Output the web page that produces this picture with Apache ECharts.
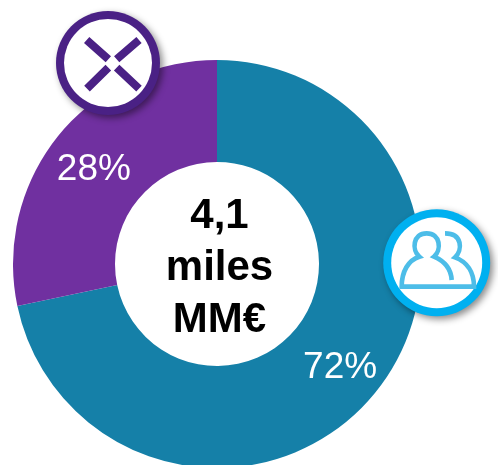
<!DOCTYPE html>
<html><head><meta charset="utf-8">
<style>html,body{margin:0;padding:0;background:#fff}#c{width:498px;height:465px}</style>
<script src="https://cdn.jsdelivr.net/npm/echarts@6/dist/echarts.min.js"></script>
</head><body><div id="c"></div>
<script>
const categories = ['Azul', 'Morado'];
const values = [71.7, 28.3];
const colors = ['#1580a8', '#7030a0'];
const centerLines = ['4,1', 'miles', 'MM€'];
const font = '"Liberation Sans", Arial, sans-serif';

echarts.graphic.registerShape('crossIcon', echarts.graphic.extendPath(
  'M140 120 L205 178 M297 120 L230 178 M141 266 L205 203 M297 266 L230 203', {}));
echarts.graphic.registerShape('peopleIcon', echarts.graphic.extendPath(
  'M245 240 C243 205 220 182 192 170 C215 150 212 100 170 100 C128 100 125 150 148 170 C115 180 95 215 95 260 L312 260 C312 215 290 185 255 172 C278 150 278 100 225 100', {}));

const shadow = {shadowBlur: 7, shadowOffsetX: 3, shadowOffsetY: 3, shadowColor: 'rgba(0,0,0,0.45)'};
const chart = echarts.init(document.getElementById('c'), null, {renderer: 'canvas'});
chart.setOption({
  animation: false,
  backgroundColor: '#fff',
  series: [{
    type: 'pie',
    center: [217, 264],
    radius: [102, 204],
    startAngle: 90,
    clockwise: true,
    silent: true,
    percentPrecision: 0,
    data: categories.map((name, i) => ({
      name, value: values[i], itemStyle: {color: colors[i]},
      label: {offset: i === 0 ? [2, 5] : [-2, 4]}
    })),
    label: {
      show: true, position: 'inside', formatter: '{d}%',
      color: '#fff', fontFamily: font, fontSize: 37, fontWeight: 'normal'
    },
    labelLine: {show: false}
  }],
  graphic: [
    {type: 'text', z: 50, style: {
      x: 219.5, y: 268, text: centerLines.join('\n'),
      fill: '#000', font: 'bold 42px ' + font, lineHeight: 52,
      align: 'center', verticalAlign: 'middle'
    }},
    {type: 'circle', z: 60, shape: {cx: 108, cy: 63, r: 52},
     style: Object.assign({fill: '#4a2185'}, shadow)},
    {type: 'circle', z: 60, shape: {cx: 108, cy: 63, r: 44}, style: {fill: '#fff'}},
    {type: 'crossIcon', z: 61, x: 40, y: 0, scaleX: 1/3, scaleY: 1/3,
     style: {fill: 'none', stroke: '#4a2185', lineWidth: 24}},
    {type: 'circle', z: 60, shape: {cx: 436.7, cy: 262.7, r: 53.5},
     style: Object.assign({fill: '#00b0f0'}, shadow)},
    {type: 'circle', z: 60, shape: {cx: 436.7, cy: 262.7, r: 45.5}, style: {fill: '#fff'}},
    {type: 'peopleIcon', z: 61, x: 370, y: 200, scaleX: 1/3, scaleY: 1/3,
     style: {fill: 'none', stroke: '#4dbde8', lineWidth: 14}}
  ]
});
</script></body></html>
